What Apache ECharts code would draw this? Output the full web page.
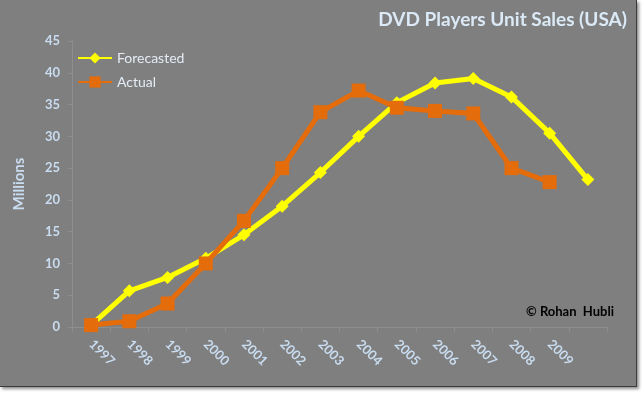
<!DOCTYPE html>
<html><head><meta charset="utf-8">
<script src="https://cdn.jsdelivr.net/npm/echarts@6/dist/echarts.min.js"></script>
<style>
html,body{margin:0;padding:0;background:#fff;width:644px;height:394px;overflow:hidden;}
#frame{position:absolute;left:0;top:0;width:636px;height:386px;background:#7f7f7f;border-right:1px solid #3a3a3a;border-bottom:1px solid #3a3a3a;box-shadow:2px 2px 3px rgba(0,0,0,0.45);}
#main{width:636px;height:386px;}
</style></head>
<body><div id="frame"><div id="main"></div></div>
<script>
const categories = ['1997','1998','1999','2000','2001','2002','2003','2004','2005','2006','2007','2008','2009',''];
const forecasted = [0.3, 5.7, 7.8, 10.8, 14.5, 19.0, 24.3, 30.0, 35.3, 38.4, 39.1, 36.2, 30.5, 23.2];
const actual = [0.3, 0.9, 3.7, 10.0, 16.7, 25.0, 33.8, 37.2, 34.5, 34.0, 33.6, 25.0, 22.8];
const yTicks = {min: 0, max: 45, step: 5};

const light = '#c9dcf0';
const chart = echarts.init(document.getElementById('main'));
chart.setOption({
  backgroundColor: 'transparent',
  animation: false,
  title: {
    text: 'DVD Players Unit Sales (USA)',
    right: 4, top: 5,
    textStyle: {color: '#dbeaf6', fontFamily: 'Lato', fontWeight: 'bold', fontSize: 19}
  },
  legend: {
    orient: 'vertical', left: 72, top: 46, itemGap: 10,
    itemWidth: 34, itemHeight: 14,
    textStyle: {color: '#e4ecf5', fontFamily: 'Lato', fontSize: 14},
    data: ['Forecasted', 'Actual']
  },
  grid: {left: 72, right: 29, top: 41, bottom: 59},
  xAxis: {
    type: 'category', data: categories, boundaryGap: true,
    axisLine: {lineStyle: {color: '#8e8e8e', width: 1}},
    axisTick: {show: true, interval: 0, length: 5, lineStyle: {color: '#8e8e8e'}},
    axisLabel: {color: light, fontFamily: 'Lato', fontWeight: 'bold', fontSize: 13, rotate: -45, margin: 15, interval: 0}
  },
  yAxis: {
    type: 'value', min: yTicks.min, max: yTicks.max, interval: yTicks.step,
    name: 'Millions', nameLocation: 'middle', nameRotate: 90, nameGap: 45,
    nameTextStyle: {color: light, fontFamily: 'Lato', fontWeight: 'bold', fontSize: 15},
    axisLine: {show: true, lineStyle: {color: '#8e8e8e'}},
    axisTick: {show: true, length: 4, lineStyle: {color: '#8e8e8e'}},
    splitLine: {show: false},
    axisLabel: {color: light, fontFamily: 'Lato', fontWeight: 'bold', fontSize: 13, margin: 12}
  },
  graphic: [{
    type: 'text', right: 22, top: 305,
    style: {text: '© Rohan  Hubli', fill: '#000', font: 'bold 13px Lato'}
  }],
  series: [
    {name: 'Forecasted', type: 'line', data: forecasted, color: '#ffff00',
     lineStyle: {width: 5, color: '#ffff00'}, symbol: 'diamond', symbolSize: 13,
     itemStyle: {color: '#ffff00'}, z: 2},
    {name: 'Actual', type: 'line', data: actual, color: '#e46c0a',
     lineStyle: {width: 5, color: '#e46c0a'}, symbol: 'rect', symbolSize: 14,
     itemStyle: {color: '#e46c0a'}, z: 3}
  ]
});
</script></body></html>
